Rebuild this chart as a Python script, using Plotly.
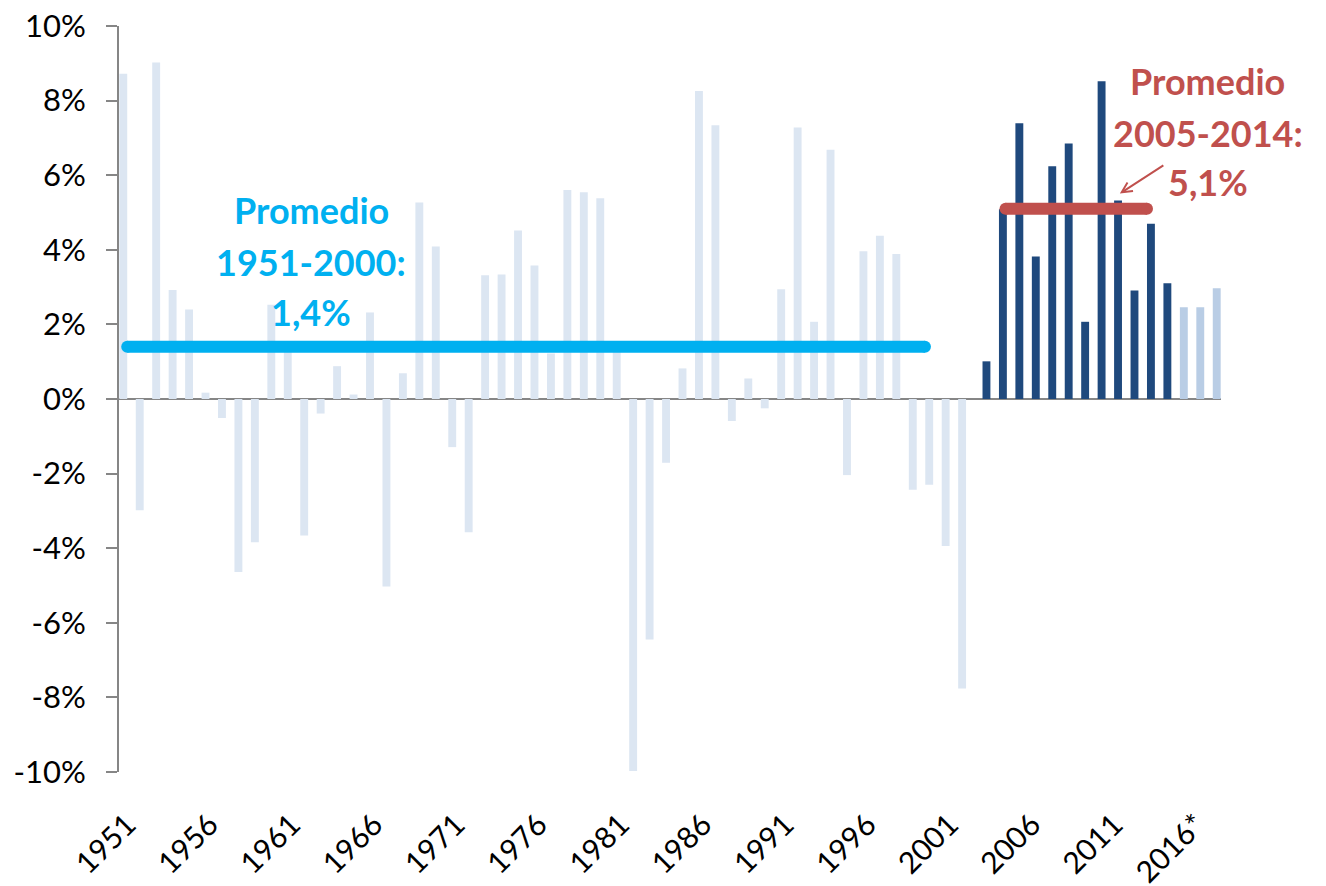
import plotly.graph_objects as go

# ---------------- data ----------------
years_hist = list(range(1951, 2003))
growth_hist = [8.72, -2.98, 9.02, 2.92, 2.40, 0.17, -0.51, -4.64, -3.84, 2.53,
               1.45, -3.66, -0.39, 0.88, 0.12, 2.32, -5.03, 0.69, 5.27, 4.09,
               -1.29, -3.57, 3.32, 3.34, 4.52, 3.58, 1.22, 5.60, 5.54, 5.38,
               1.30, -9.97, -6.45, -1.71, 0.82, 8.26, 7.34, -0.59, 0.55, -0.25,
               2.94, 7.28, 2.07, 6.68, -2.04, 3.96, 4.38, 3.89, -2.43, -2.30,
               -3.94, -7.76]
years_recent = list(range(2003, 2015))
growth_recent = [1.01, 5.09, 7.39, 3.82, 6.24, 6.85, 2.07, 8.52, 5.32, 2.91, 4.70, 3.10]
years_proj = [2015, 2016, 2017]
growth_proj = [2.46, 2.46, 2.97]

avg_hist_span = [1951, 1999.5]
avg_hist_value = 1.4
avg_recent_span = [2004.4, 2013.0]
avg_recent_value = 5.1

x_tick_vals = [1951, 1956, 1961, 1966, 1971, 1976, 1981, 1986, 1991, 1996, 2001, 2006, 2011, 2016]
x_tick_text = ["1951", "1956", "1961", "1966", "1971", "1976", "1981", "1986", "1991",
               "1996", "2001", "2006", "2011", "2016*"]
y_tick_vals = [-10, -8, -6, -4, -2, 0, 2, 4, 6, 8, 10]
y_tick_text = ["-10%", "-8%", "-6%", "-4%", "-2%", "0%", "2%", "4%", "6%", "8%", "10%"]

label_hist = ["Promedio", "1951-2000:", "1,4%"]
label_recent = ["Promedio", "2005-2014:", "5,1%"]

# ---------------- styling ----------------
LIGHT = "#DCE6F2"
DARK = "#1F497D"
MEDIUM = "#B9CDE5"
BLUE = "#00B0F0"
RED = "#C0504D"
AXIS = "#868686"
FONT = "Lato"

fig = go.Figure()
fig.add_bar(x=years_hist, y=growth_hist, marker=dict(color=LIGHT, line=dict(width=0)),
            offsetgroup="a", showlegend=False, hoverinfo="x+y")
fig.add_bar(x=years_recent, y=growth_recent, marker=dict(color=DARK, line=dict(width=0)),
            offsetgroup="b", showlegend=False, hoverinfo="x+y")
fig.add_bar(x=years_proj, y=growth_proj, marker=dict(color=MEDIUM, line=dict(width=0)),
            offsetgroup="b", showlegend=False, hoverinfo="x+y")

fig.add_scatter(x=avg_hist_span, y=[avg_hist_value] * 2, mode="lines+markers",
                line=dict(color=BLUE, width=12), marker=dict(color=BLUE, size=12),
                showlegend=False, hoverinfo="skip")
fig.add_scatter(x=avg_recent_span, y=[avg_recent_value] * 2, mode="lines+markers",
                line=dict(color=RED, width=12), marker=dict(color=RED, size=12),
                showlegend=False, hoverinfo="skip")

annotations = []
hist_x = 1962.2
hist_ys = [5.06, 3.68, 2.34]
for txt, yy in zip(label_hist, hist_ys):
    annotations.append(dict(x=hist_x, y=yy, xref="x", yref="y", text=txt, showarrow=False,
                            xanchor="center", yanchor="middle",
                            font=dict(family=FONT, size=36, color=BLUE, weight="bold")))
rec_x = 2016.7
rec_ys = [8.52, 7.14, 5.82]
for txt, yy in zip(label_recent, rec_ys):
    annotations.append(dict(x=rec_x, y=yy, xref="x", yref="y", text=txt, showarrow=False,
                            xanchor="center", yanchor="middle",
                            font=dict(family=FONT, size=36, color=RED, weight="bold")))
annotations.append(dict(x=2011.35, y=5.51, xref="x", yref="y", text="", showarrow=True,
                        ax=45, ay=-29, arrowhead=5, arrowsize=1, arrowwidth=2,
                        arrowcolor=RED, standoff=0, startstandoff=0))

fig.update_layout(
    width=1326, height=886,
    margin=dict(l=119, r=105, t=26, b=114, autoexpand=False),
    paper_bgcolor="white", plot_bgcolor="white",
    barmode="group", bargap=0.04, bargroupgap=0,
    showlegend=False,
    annotations=annotations,
    font=dict(family=FONT, color="black"),
)
fig.update_xaxes(range=[1950.5, 2017.5], showline=False, showgrid=False, zeroline=False,
                 automargin=False, ticklabeloverflow="allow",
                 tickmode="array", tickvals=x_tick_vals, ticktext=x_tick_text,
                 tickangle=-45, ticks="", tickfont=dict(family=FONT, size=30, color="black"),
                 ticklabelstandoff=28)
fig.update_yaxes(range=[-10, 10], showgrid=False, showline=True, linecolor=AXIS, linewidth=2,
                 zeroline=True, zerolinecolor=AXIS, zerolinewidth=2, automargin=False,
                 ticklabeloverflow="allow",
                 tickmode="array", tickvals=y_tick_vals, ticktext=y_tick_text,
                 ticks="outside", ticklen=11, tickwidth=2, tickcolor=AXIS,
                 tickfont=dict(family=FONT, size=31, color="black"),
                 ticklabelstandoff=14)

fig.write_html("out.html", config={"displayModeBar": False},
               post_script="document.body.style.margin='0';")
